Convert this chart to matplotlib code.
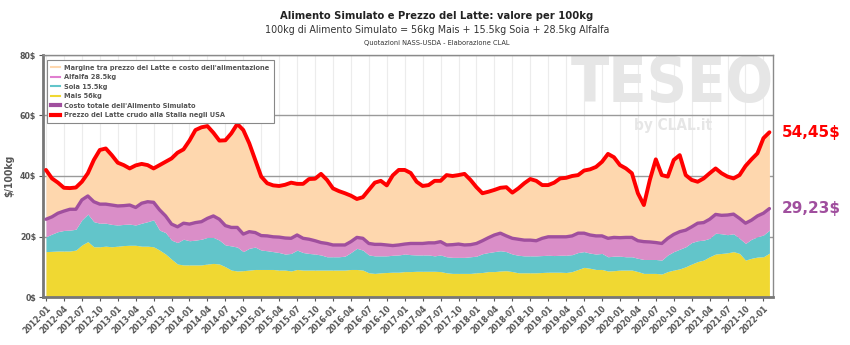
import numpy as np
import pandas as pd
import matplotlib
matplotlib.use("Agg")
import matplotlib.pyplot as plt
from matplotlib.lines import Line2D

# monthly data, 2012-01 .. 2022-02 ($/100kg)
months = pd.date_range("2012-01-01", periods=122, freq="MS")

mais = [15.0, 15.1, 15.2, 15.2, 15.2, 15.5, 17.2, 18.3, 16.6, 16.6, 16.8, 16.6,
        16.8, 17.0, 17.1, 17.1, 16.8, 16.8, 16.6, 15.5, 14.2, 12.5, 10.9, 10.6,
        10.6, 10.6, 10.6, 10.9, 11.1, 10.9, 10.0, 8.9, 8.6, 8.7, 8.9, 9.1,
        9.1, 9.1, 9.1, 8.9, 8.9, 8.6, 9.1, 8.9, 8.9, 8.9, 8.9, 8.9,
        8.9, 8.9, 8.9, 9.1, 9.1, 8.9, 8.0, 7.8, 8.0, 8.1, 8.2, 8.2,
        8.4, 8.4, 8.5, 8.5, 8.5, 8.5, 8.4, 8.0, 7.8, 7.8, 7.8, 7.8,
        8.0, 8.1, 8.4, 8.4, 8.6, 8.7, 8.4, 8.0, 8.0, 8.0, 8.0, 8.1,
        8.2, 8.2, 8.2, 8.1, 8.4, 9.1, 9.8, 9.5, 9.1, 9.1, 8.6, 8.7,
        8.9, 8.9, 8.9, 8.4, 7.8, 7.8, 7.8, 7.6, 8.4, 8.9, 9.3, 10.0,
        10.9, 11.7, 12.2, 13.3, 14.2, 14.4, 14.6, 15.0, 14.4, 12.2, 12.8, 13.2,
        13.3, 14.5]

soia = [4.9, 5.7, 6.4, 6.8, 6.9, 6.9, 8.3, 9.1, 8.3, 7.8, 7.6, 7.4,
        7.0, 7.0, 7.0, 6.7, 7.6, 8.1, 8.9, 6.6, 7.1, 6.3, 7.1, 8.5,
        8.0, 8.2, 8.5, 8.8, 8.6, 7.9, 7.2, 8.0, 7.9, 6.3, 7.2, 7.4,
        6.4, 6.2, 5.9, 5.8, 5.3, 5.8, 6.4, 5.8, 5.5, 5.3, 5.0, 4.4,
        4.4, 4.4, 4.6, 5.6, 7.0, 6.6, 5.9, 5.8, 5.6, 5.5, 5.6, 5.7,
        5.8, 5.6, 5.4, 5.4, 5.4, 5.1, 5.5, 5.3, 5.3, 5.3, 5.3, 5.5,
        5.5, 6.2, 6.3, 6.6, 6.7, 6.3, 5.8, 5.8, 5.6, 5.6, 5.6, 5.6,
        5.6, 5.5, 5.6, 5.7, 5.6, 5.6, 5.2, 5.0, 5.1, 5.3, 4.7, 4.8,
        4.6, 4.4, 4.4, 4.4, 4.6, 4.6, 4.6, 4.6, 5.5, 6.1, 6.5, 6.6,
        7.1, 6.9, 6.6, 6.1, 6.9, 6.5, 6.0, 5.9, 5.0, 5.5, 6.3, 6.7,
        7.2, 7.6]

alfalfa = [5.8, 5.7, 6.1, 6.4, 6.9, 6.6, 6.6, 6.0, 6.6, 6.3, 6.3, 6.4,
           6.3, 6.2, 6.3, 5.8, 6.6, 6.6, 5.8, 6.7, 5.5, 5.3, 5.2, 5.3,
           5.5, 5.8, 5.8, 6.3, 7.1, 6.9, 6.4, 6.1, 6.5, 5.8, 5.5, 4.8,
           4.8, 4.9, 4.9, 5.1, 5.3, 5.0, 5.0, 4.7, 4.7, 4.4, 4.1, 4.4,
           3.9, 3.9, 3.7, 3.6, 3.6, 3.9, 3.8, 3.8, 3.8, 3.6, 3.2, 3.3,
           3.3, 3.7, 3.8, 3.8, 4.0, 4.3, 4.4, 3.9, 4.2, 4.4, 4.1, 4.0,
           4.2, 4.3, 4.9, 5.5, 5.8, 5.2, 5.2, 5.3, 5.2, 5.2, 5.0, 5.7,
           6.1, 6.2, 6.1, 6.1, 6.2, 6.4, 6.1, 6.0, 6.0, 5.8, 6.1, 6.2,
           6.1, 6.4, 6.4, 5.8, 5.9, 5.8, 5.6, 5.5, 5.5, 5.7, 5.8, 5.5,
           5.2, 5.8, 5.8, 6.3, 6.2, 6.1, 6.5, 6.5, 6.6, 6.7, 6.3, 6.9,
           7.2, 7.13]

latte = [42.0, 39.2, 37.8, 36.1, 36.0, 36.2, 38.1, 40.9, 45.3, 48.6, 49.1, 46.9,
         44.4, 43.6, 42.5, 43.5, 44.0, 43.6, 42.5, 43.6, 44.7, 45.8, 47.7, 48.8,
         51.7, 55.2, 56.1, 56.5, 54.3, 51.7, 51.8, 54.1, 57.2, 55.2, 50.8, 45.3,
         39.8, 37.6, 36.9, 36.7, 37.1, 37.8, 37.4, 37.4, 39.0, 39.1, 40.7, 38.7,
         35.9, 35.0, 34.3, 33.5, 32.4, 33.0, 35.4, 37.8, 38.4, 36.9, 40.2, 42.0,
         42.0, 41.0, 38.1, 36.7, 37.0, 38.4, 38.4, 40.3, 40.0, 40.3, 40.7, 38.7,
         36.3, 34.3, 34.8, 35.4, 36.1, 36.3, 34.5, 35.9, 37.6, 39.0, 38.4, 37.0,
         37.0, 37.8, 39.2, 39.4, 40.0, 40.3, 41.8, 42.2, 43.0, 44.7, 47.3, 46.2,
         43.6, 42.5, 40.9, 34.3, 30.4, 38.7, 45.5, 40.3, 39.8, 45.3, 46.9, 40.3,
         38.7, 38.1, 39.2, 40.9, 42.5, 40.9, 39.8, 39.2, 40.3, 43.3, 45.5, 47.5,
         52.5, 54.45]

c_mais = "#f0d832"
c_soia = "#62c5ca"
c_alfa = "#da8ec8"
c_marg = "#fed7ae"
c_tot = "#a04f9e"
c_latte = "#ff0000"
grey = "#555555"

plt.rcParams["font.family"] = ["DejaVu Sans"]
plt.rcParams["font.stretch"] = "condensed"

x = np.arange(len(months))
y1 = np.array(mais)
y2 = y1 + np.array(soia)
y3 = y2 + np.array(alfalfa)
milk = np.array(latte)

fig = plt.figure(figsize=(8.5, 3.45), dpi=100)
ax = fig.add_axes([43 / 850, 48 / 345, 730 / 850, 242 / 345])

ax.fill_between(x, 0, y1, color=c_mais, lw=0, zorder=2)
ax.fill_between(x, y1, y2, color=c_soia, lw=0, zorder=2)
ax.fill_between(x, y2, y3, color=c_alfa, lw=0, zorder=2)
ax.fill_between(x, y3, milk, color=c_marg, lw=0, zorder=2)
ax.plot(x, y3, color=c_tot, lw=2.4, zorder=4, solid_capstyle="round")
ax.plot(x, milk, color=c_latte, lw=2.8, zorder=5, solid_capstyle="round")

ax.set_xlim(-0.5, 121.6)
ax.set_ylim(0, 80)

# gridlines
ax.set_yticks([0, 20, 40, 60, 80])
ax.set_yticklabels([f"{v}$" for v in [0, 20, 40, 60, 80]])
ax.grid(axis="y", color="#9a9a9a", lw=1.0, zorder=3)
tick_idx = x[::3]
ax.set_xticks(tick_idx)
ax.set_xticklabels([months[i].strftime("%Y-%m") for i in tick_idx],
                   rotation=45, ha="right", va="top", rotation_mode="anchor")
for t in tick_idx:
    ax.axvline(t, color="#ececec", lw=0.8, zorder=1)

ax.tick_params(axis="both", labelsize=6.3, colors=grey, length=3, width=0.8, pad=2)
for lab in ax.get_xticklabels() + ax.get_yticklabels():
    lab.set_fontweight("bold")
    lab.set_color(grey)

for side in ["top", "right"]:
    ax.spines[side].set_color("#8a8a8a")
    ax.spines[side].set_linewidth(1.0)
for side in ["left", "bottom"]:
    ax.spines[side].set_color("#777777")
    ax.spines[side].set_linewidth(2.0)

ax.set_ylabel("$/100kg", fontsize=7.5, fontweight="bold", color=grey, labelpad=4)

# watermark
ax.text(0.862, 0.875, "TESEO", transform=ax.transAxes, fontsize=45, fontweight="bold",
        color="#e6e6e6", ha="center", va="center", zorder=1)
ax.text(0.863, 0.71, "by CLAL.it", transform=ax.transAxes, fontsize=11, fontweight="bold",
        color="#e6e6e6", ha="center", va="center", zorder=1)

# legend
handles = [
    Line2D([], [], color=c_marg, lw=1.5),
    Line2D([], [], color="#e07fd0", lw=1.5),
    Line2D([], [], color=c_soia, lw=1.5),
    Line2D([], [], color=c_mais, lw=1.5),
    Line2D([], [], color=c_tot, lw=3),
    Line2D([], [], color=c_latte, lw=3),
]
labels = [
    "Margine tra prezzo del Latte e costo dell'alimentazione",
    "Alfalfa 28.5kg",
    "Soia 15.5kg",
    "Mais 56kg",
    "Costo totale dell'Alimento Simulato",
    "Prezzo del Latte crudo alla Stalla negli USA",
]
leg = ax.legend(handles, labels, loc="upper left", bbox_to_anchor=(0.0, 0.995),
                fontsize=5.3, frameon=True, fancybox=False, handlelength=1.1,
                handletextpad=0.6, labelspacing=0.45, borderpad=0.65, framealpha=1)
leg.get_frame().set_edgecolor("#888888")
leg.get_frame().set_linewidth(0.8)
for t in leg.get_texts():
    t.set_fontweight("bold")
    t.set_color(grey)
leg.set_zorder(10)

# end labels
ax.annotate(f"{latte[-1]:.2f}$".replace(".", ","), xy=(1, latte[-1]),
            xycoords=("axes fraction", "data"), xytext=(6, 0), textcoords="offset points",
            fontsize=11, fontweight="bold", color=c_latte, va="center", ha="left",
            fontstretch="normal")
ax.annotate(f"{y3[-1]:.2f}$".replace(".", ","), xy=(1, y3[-1]),
            xycoords=("axes fraction", "data"), xytext=(6, 0), textcoords="offset points",
            fontsize=11, fontweight="bold", color=c_tot, va="center", ha="left",
            fontstretch="normal")

# titles
cx = 437 / 850
fig.text(cx, 1 - 16 / 345, "Alimento Simulato e Prezzo del Latte: valore per 100kg",
         ha="center", va="center", fontsize=8.0, fontweight="bold", color="#222222")
fig.text(cx, 1 - 30 / 345, "100kg di Alimento Simulato = 56kg Mais + 15.5kg Soia + 28.5kg Alfalfa",
         ha="center", va="center", fontsize=7.7, color="#333333")
fig.text(cx, 1 - 43 / 345, "Quotazioni NASS-USDA - Elaborazione CLAL",
         ha="center", va="center", fontsize=5.3, color="#333333")

fig.savefig("out.png", dpi=100)
